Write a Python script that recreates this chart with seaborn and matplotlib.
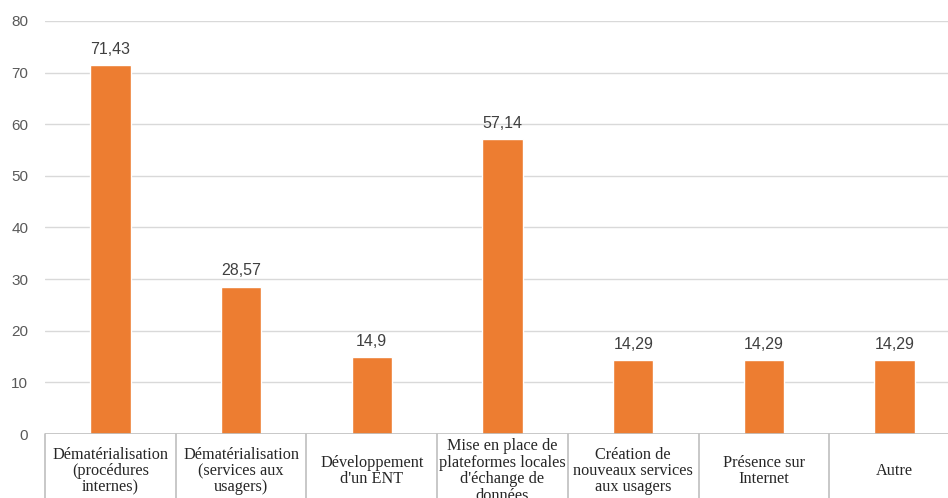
import matplotlib
matplotlib.use("Agg")
import matplotlib.pyplot as plt
import matplotlib.transforms as mtransforms
import pandas as pd
import seaborn as sns

# Données du graphique
categories = [
    "Dématérialisation\n(procédures\ninternes)",
    "Dématérialisation\n(services aux\nusagers)",
    "Développement\nd'un ENT",
    "Mise en place de\nplateformes locales\nd'échange de\ndonnées",
    "Création de\nnouveaux services\naux usagers",
    "Présence sur\nInternet",
    "Autre",
]
values = [71.43, 28.57, 14.9, 57.14, 14.29, 14.29, 14.29]
y_ticks = [0, 10, 20, 30, 40, 50, 60, 70, 80]

orange = "#ED7D31"
grid_grey = "#D9D9D9"
sep_grey = "#BFBFBF"

sns.set_theme(style="white")
plt.rcParams["font.family"] = ["Liberation Sans", "DejaVu Sans"]

df = pd.DataFrame({"cat": categories, "val": values})

W, H = 948, 498
fig = plt.figure(figsize=(W / 100, H / 100), dpi=100)
ax_left, ax_right, ax_bot, ax_top = 45, 960, 434, 21
ax = fig.add_axes([ax_left / W, (H - ax_bot) / H,
                   (ax_right - ax_left) / W, (ax_bot - ax_top) / H])

sns.barplot(data=df, x="cat", y="val", color=orange, width=0.31,
            saturation=1, ax=ax, zorder=3)

ax.set_xlim(-0.5, len(categories) - 0.5)
ax.set_ylim(0, 80)
ax.set_yticks(y_ticks)
ax.set_yticklabels([str(t) for t in y_ticks], fontsize=11, color="#595959")
ax.tick_params(axis="y", length=0, pad=12)
ax.set_xticks([])
ax.set_xlabel("")
ax.set_ylabel("")
for s in ax.spines.values():
    s.set_visible(False)

# Grille horizontale
for t in y_ticks[1:]:
    ax.axhline(t, color=grid_grey, lw=1, zorder=1)
ax.axhline(0, color=sep_grey, lw=1.2, zorder=4)

# Étiquettes de valeur
for i, v in enumerate(values):
    ax.annotate(f"{v:g}".replace(".", ","), (i, v), xytext=(0, 6),
                textcoords="offset points", ha="center", va="bottom",
                fontsize=11.5, color="#404040")

# Tableau des catégories sous l'axe
trans = mtransforms.blended_transform_factory(ax.transData, ax.transAxes)
px = 1.0 / (ax_bot - ax_top)
for k in range(len(categories) + 1):
    ax.plot([k - 0.5, k - 0.5], [0, -80 * px], transform=trans,
            color=sep_grey, lw=1.2, clip_on=False)
for i, lab in enumerate(categories):
    ax.text(i, -37 * px, lab, transform=trans, ha="center", va="center",
            fontsize=11.7, family=["Liberation Serif", "DejaVu Serif"],
            color="#262626", linespacing=1.03, clip_on=False)

fig.savefig("out.png", dpi=100)
